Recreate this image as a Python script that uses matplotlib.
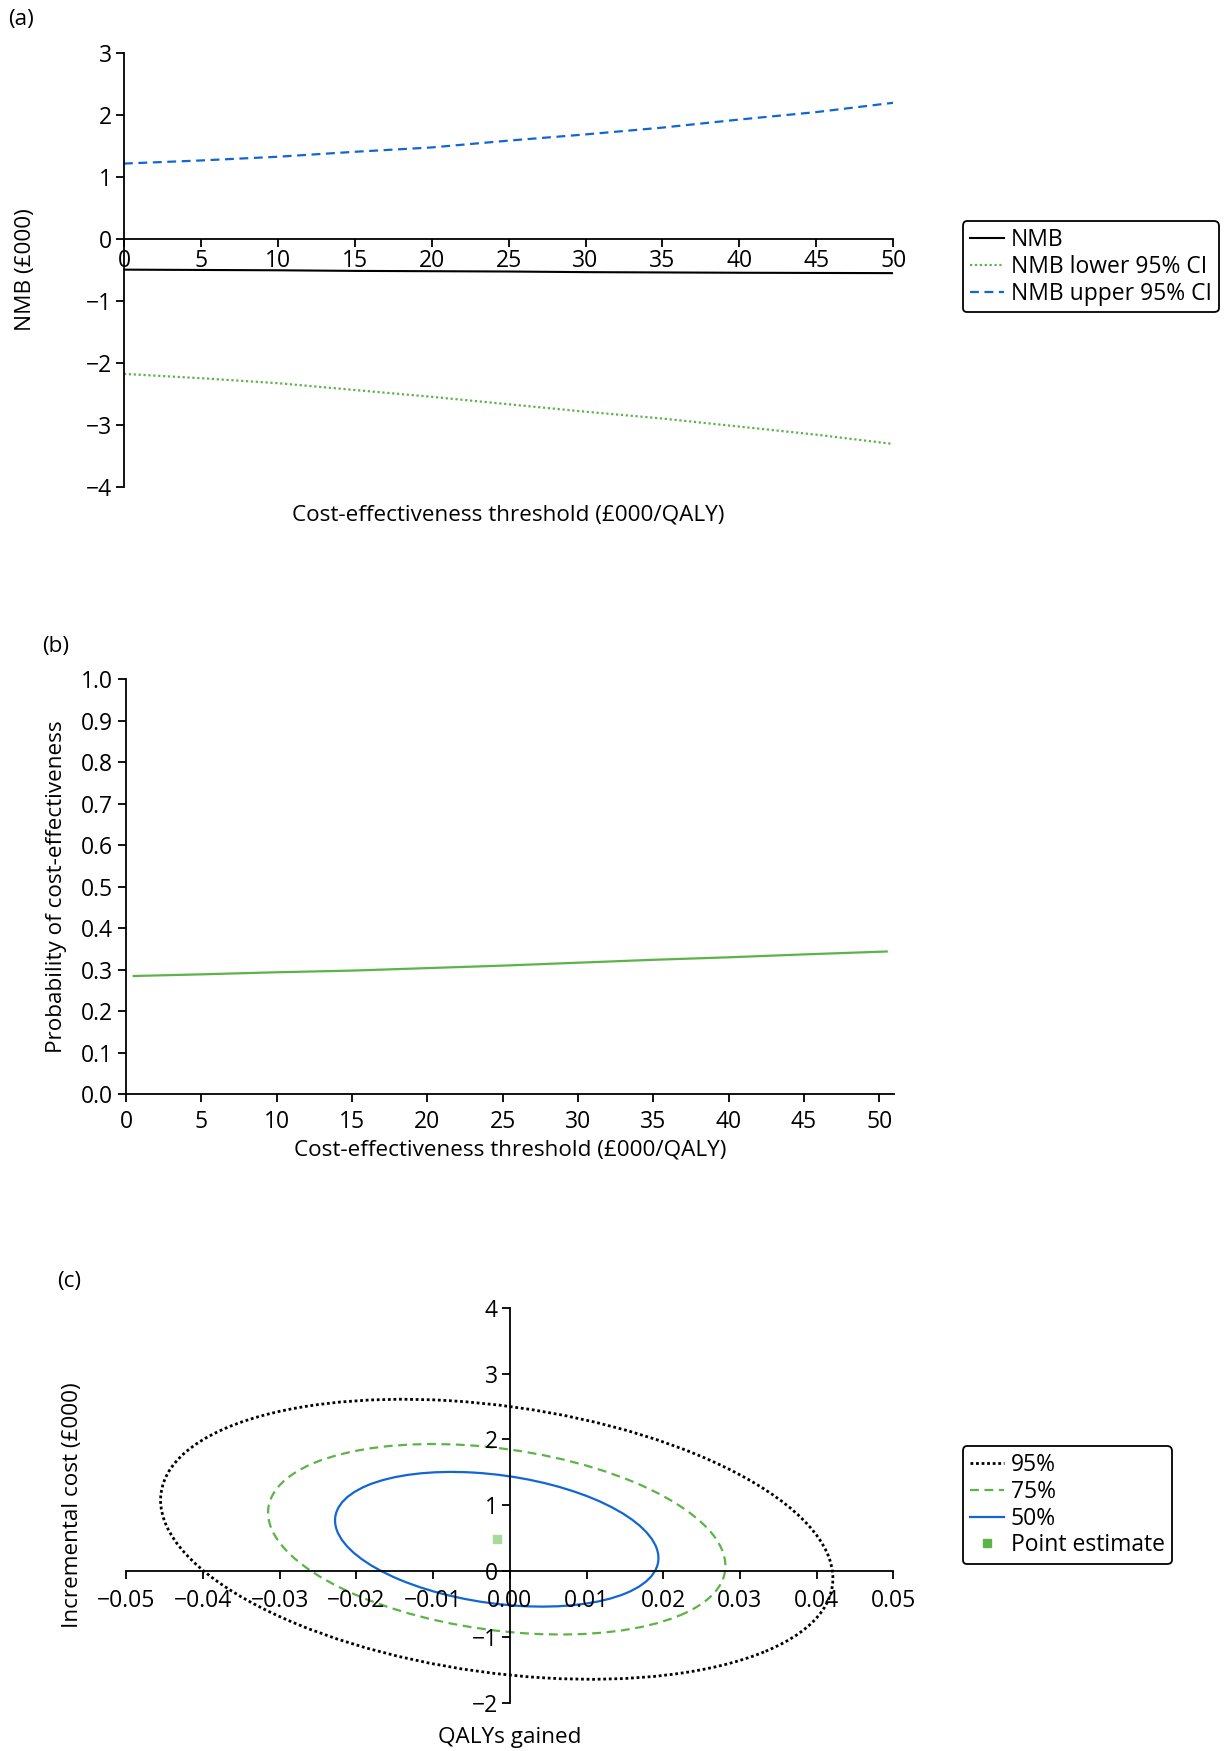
import numpy as np
import matplotlib
matplotlib.use("Agg")
import matplotlib.pyplot as plt
import matplotlib.transforms as mtransforms
from matplotlib.patches import Ellipse
from matplotlib.lines import Line2D
from matplotlib.ticker import FuncFormatter, MultipleLocator

plt.rcParams['font.family'] = ['Open Sans', 'DejaVu Sans']

# ---------------- data ----------------
# (a) net monetary benefit
threshold_a = [0, 5, 10, 15, 20, 25, 30, 35, 40, 45, 50]
nmb = [-0.50, -0.505, -0.51, -0.52, -0.525, -0.53, -0.54, -0.545, -0.55, -0.553, -0.556]
nmb_lower = [-2.18, -2.25, -2.33, -2.44, -2.55, -2.67, -2.79, -2.90, -3.03, -3.16, -3.31]
nmb_upper = [1.21, 1.26, 1.32, 1.40, 1.47, 1.58, 1.68, 1.79, 1.92, 2.04, 2.19]
legend_a = ["NMB", "NMB lower 95% CI", "NMB upper 95% CI"]

# (b) cost-effectiveness acceptability curve
threshold_b = [0.5, 5, 10, 15, 20, 25, 30, 35, 40, 45, 50.5]
prob_ce = [0.285, 0.289, 0.294, 0.298, 0.304, 0.310, 0.317, 0.324, 0.330, 0.337, 0.344]

# (c) cost-effectiveness plane: bivariate normal summary
mean_qaly = -0.0017
mean_cost = 0.485
sd_qaly = 0.0179
sd_cost = 0.868
rho = -0.28
levels = [0.95, 0.75, 0.50]
legend_c = ["95%", "75%", "50%", "Point estimate"]

BLUE = '#1266d4'
GREEN = '#5cb448'
LIGHTGREEN = '#a9d99c'
FS = 16.2      # axis labels
TFS = 16.5     # tick labels
LFS = 16.5     # legend

fig = plt.figure(figsize=(12.25, 17.51), dpi=100)


def style(ax, xpad, ypad):
    for s in ['top', 'right']:
        ax.spines[s].set_visible(False)
    for s in ['left', 'bottom']:
        ax.spines[s].set_linewidth(1.3)
    ax.tick_params(axis='both', which='major', labelsize=TFS, length=5.5, width=1.3,
                   direction='out')
    ax.tick_params(axis='x', pad=xpad)
    ax.tick_params(axis='y', pad=ypad)


def make_legend(handles, labels, top):
    leg = fig.legend(handles, labels, loc='upper left', bbox_to_anchor=(0.786, top),
                     bbox_transform=fig.transFigure, borderaxespad=0, fontsize=LFS,
                     frameon=True, fancybox=True, edgecolor='black', framealpha=1,
                     handlelength=1.5, handletextpad=0.3, labelspacing=0.12,
                     borderpad=0.3)
    leg.get_frame().set_linewidth(1.3)
    return leg


# ---------------- (a) ----------------
axa = fig.add_axes([0.1012, 0.722, 0.628, 0.248])
style(axa, 2, 3)
axa.plot(threshold_a, nmb, color='black', lw=1.5, label=legend_a[0])
axa.plot(threshold_a, nmb_lower, color=GREEN, lw=1.6, ls=(0, (1, 1.2)), label=legend_a[1])
axa.plot(threshold_a, nmb_upper, color=BLUE, lw=1.6, ls=(0, (4, 2.5)), label=legend_a[2])
axa.set_xlim(0, 50)
axa.set_ylim(-4, 3)
axa.spines['bottom'].set_position(('data', 0))
axa.xaxis.set_major_locator(MultipleLocator(5))
axa.yaxis.set_major_locator(MultipleLocator(1))
axa.set_ylabel("NMB (£000)", fontsize=FS)
axa.yaxis.set_label_coords(-0.115, 0.5)
axa.text(0.5, -0.064, "Cost-effectiveness threshold (£000/QALY)", transform=axa.transAxes,
         ha='center', va='center', fontsize=FS)
make_legend(*axa.get_legend_handles_labels(), 0.8737)
fig.text(0.007, 0.995, "(a)", ha='left', va='top', fontsize=FS)

# ---------------- (b) ----------------
axb = fig.add_axes([0.103, 0.375, 0.627, 0.2372])
style(axb, 5.5, 4)
axb.plot(threshold_b, prob_ce, color=GREEN, lw=1.6)
axb.set_xlim(0, 51)
axb.set_ylim(0, 1.0)
axb.xaxis.set_major_locator(MultipleLocator(5))
axb.yaxis.set_major_locator(MultipleLocator(0.1))
axb.yaxis.set_major_formatter(FuncFormatter(lambda v, p: f"{v:.1f}"))
axb.set_ylabel("Probability of cost-effectiveness", fontsize=FS)
axb.yaxis.set_label_coords(-0.077, 0.5)
axb.text(0.5, -0.134, "Cost-effectiveness threshold (£000/QALY)", transform=axb.transAxes,
         ha='center', va='center', fontsize=FS)
fig.text(0.034, 0.6365, "(b)", ha='left', va='top', fontsize=FS)

# ---------------- (c) ----------------
axc = fig.add_axes([0.103, 0.0274, 0.6263, 0.2258])
style(axc, 7, 3)
axc.set_xlim(-0.05, 0.05)
axc.set_ylim(-2, 4)
axc.spines['bottom'].set_position(('data', 0))
axc.spines['left'].set_position(('data', 0))
axc.xaxis.set_major_locator(MultipleLocator(0.01))
axc.yaxis.set_major_locator(MultipleLocator(1))


def fmt2(v, p):
    s = f"{v:.2f}"
    if s == "-0.00":
        s = "0.00"
    return s.replace('-', '\u2212')


def fmt0(v, p):
    s = f"{v:.0f}"
    if s == "-0":
        s = "0"
    return s.replace('-', '\u2212')


axc.xaxis.set_major_formatter(FuncFormatter(fmt2))
axc.yaxis.set_major_formatter(FuncFormatter(fmt0))

ell_styles = {0.95: dict(edgecolor='black', ls=(0, (1, 1.0)), lw=2.0),
              0.75: dict(edgecolor=GREEN, ls=(0, (4, 2.5)), lw=1.6),
              0.50: dict(edgecolor=BLUE, ls='-', lw=1.6)}
handles = []
for lev in levels:
    k = np.sqrt(-2.0 * np.log(1.0 - lev))
    e = Ellipse((0, 0), width=2 * np.sqrt(1 + rho), height=2 * np.sqrt(1 - rho),
                facecolor='none', **ell_styles[lev])
    tr = (mtransforms.Affine2D().rotate_deg(45).scale(k * sd_qaly, k * sd_cost)
          .translate(mean_qaly, mean_cost))
    e.set_transform(tr + axc.transData)
    axc.add_patch(e)
    st = ell_styles[lev]
    handles.append(Line2D([], [], color=st['edgecolor'], ls=st['ls'], lw=st['lw']))
axc.plot([mean_qaly], [mean_cost], marker='s', ms=6, color=LIGHTGREEN, ls='none')
handles.append(Line2D([], [], marker='s', ms=6, color=GREEN, ls='none'))

make_legend(handles, legend_c, 0.1741)

axc.set_ylabel("Incremental cost (£000)", fontsize=FS)
axc.yaxis.set_label_coords(-0.056, 0.5)
axc.text(0.5, -0.088, "QALYs gained", transform=axc.transAxes,
         ha='center', va='center', fontsize=FS)
fig.text(0.047, 0.2742, "(c)", ha='left', va='top', fontsize=FS)

fig.savefig("out.png", dpi=100)
